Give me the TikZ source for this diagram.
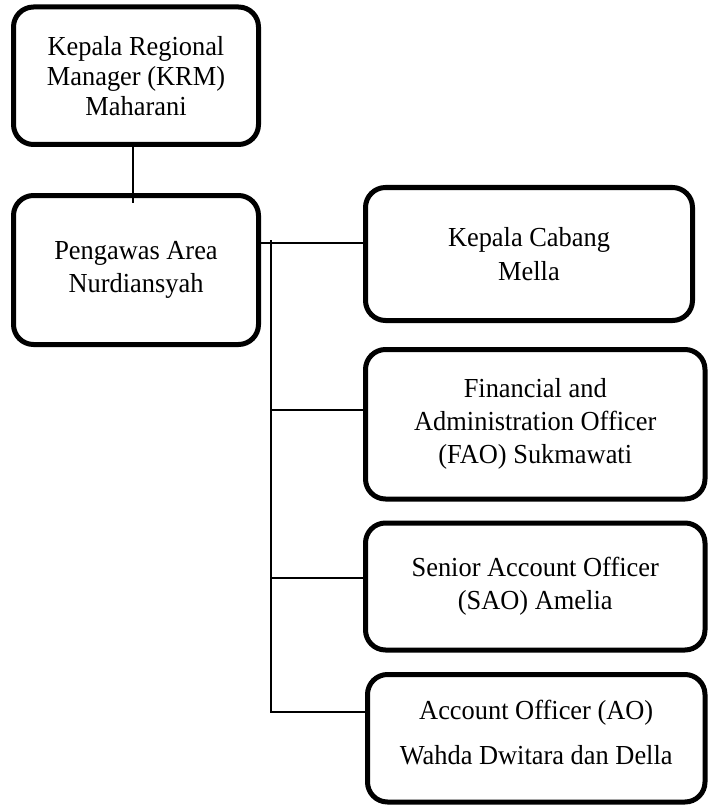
\documentclass[tikz,border=0pt]{standalone}
\usepackage{fontspec}
\setmainfont{Liberation Serif}[FakeStretch=0.96]
\usetikzlibrary{positioning,calc}

\begin{document}
\begin{tikzpicture}[x=1pt, y=-1pt,
    unit/.style={draw, line width=5pt, rounded corners=20pt, align=center, inner sep=0pt, font=\fontsize{27.5}{33}\selectfont},
    link/.style={line width=1.3pt}
]
    \useasboundingbox (0,0) rectangle (707,805);

    % Left column
    \node[unit, minimum width=245pt, minimum height=137.5pt] (krm) at (136,75.75) {Kepala Regional\\[-3pt]Manager (KRM)\\[-3pt]Maharani};
    \node[unit, minimum width=245pt, minimum height=149pt] (pa) at (136,270) {Pengawas Area\\Nurdiansyah};

    % Right column
    \node[unit, minimum width=327pt, minimum height=133pt] (kc) at (529,254) {Kepala Cabang\\[1pt]Mella};
    \node[unit, minimum width=339.5pt, minimum height=149.5pt] (fao) at (535.25,424.25) {Financial and\\Administration Officer\\(FAO) Sukmawati};
    \node[unit, minimum width=339.5pt, minimum height=127pt] (sao) at (535.25,586.5) {Senior Account Officer\\(SAO) Amelia};
    \node[unit, minimum width=337.5pt, minimum height=127.5pt] (ao) at (536.25,738.25) {Account Officer (AO)\\[12pt]Wahda Dwitara dan Della\rule[-12pt]{0pt}{12pt}};

    % Bus line
    \coordinate (bus) at (271,240);
    \coordinate (t1) at (271,243);
    \coordinate (t2) at (271,410);
    \coordinate (t3) at (271,578);
    \coordinate (t4) at (271,712);

    \draw[link] ([xshift=-3pt]krm.south) -- ([xshift=-3pt,yshift=-10pt]pa.north);
    \draw[link] (pa.east |- t1) -- (kc.west |- t1);
    \draw[link] (bus) -- (t4) -- (ao.west |- t4);
    \draw[link] (t2) -- (fao.west |- t2);
    \draw[link] (t3) -- (sao.west |- t3);
\end{tikzpicture}
\end{document}
